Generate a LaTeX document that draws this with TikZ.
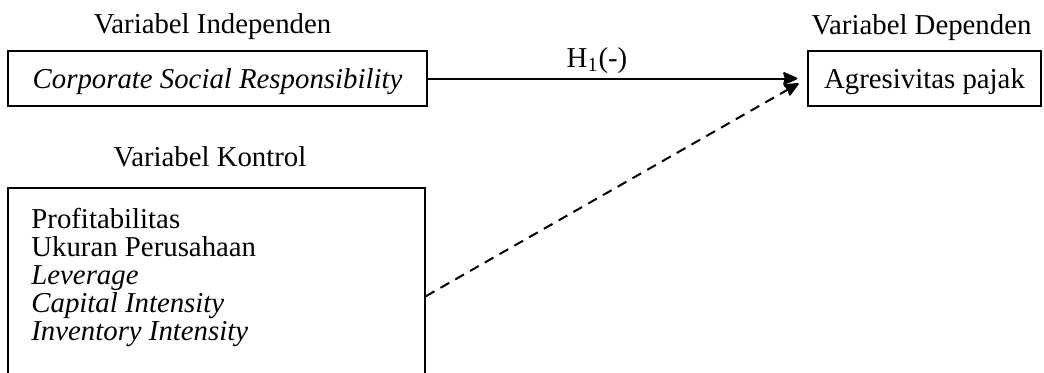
\documentclass[tikz,border=0pt]{standalone}
\usepackage{fontspec}
\setmainfont{Liberation Serif}
\usetikzlibrary{arrows.meta,calc}
\begin{document}
\begin{tikzpicture}[x=0.5pt,y=-0.5pt,
  lbl/.style={inner sep=0pt,anchor=base,font=\fontsize{14.4}{14}\selectfont},
  varbox/.style={draw,line width=0.75pt,inner sep=0pt,minimum height=27.5pt,
    text height=11pt,text depth=1.5pt,font=\fontsize{14.4}{14}\selectfont},
  link/.style={line width=1pt,-{Stealth[length=8pt,width=7pt,inset=1pt,round]},shorten >=5pt}]
\clip (0,0) rectangle (1044,372);
\node[lbl] (indeplbl) at (212.5,33) {Variabel Independen};
\node[lbl] (deplbl) at (921.5,34) {Variabel Dependen};
\node[lbl] (ctrllbl) at (210,166) {Variabel Kontrol};
\node[lbl] (h1) at (597,67) {H\textsubscript{1}(-)};
\node[varbox,minimum width=209.5pt] (csr) at (217.5,78.5) {\textit{Corporate Social Responsibility}};
\node[varbox,minimum width=116.5pt] (dep) at (924.5,78.5) {Agresivitas pajak};
\node[draw,line width=0.75pt,inner sep=0pt,minimum width=208.5pt,minimum height=106pt] (ctrl) at (216.5,294) {};
\node[inner sep=0pt,anchor=north west,align=left,font=\fontsize{14.4}{14}\selectfont] (ctrltxt) at (31,208)
  {Profitabilitas\\Ukuran Perusahaan\\\textit{Leverage}\\\textit{Capital Intensity}\\\textit{Inventory Intensity}};
\coordinate (dstart) at ([yshift=-54.5pt]ctrl.north east);
\draw[link] (csr.east) -- (dep.west);
\draw[link,dash pattern=on 5pt off 3.5pt] (dstart) -- (dep.west);
\end{tikzpicture}
\end{document}
